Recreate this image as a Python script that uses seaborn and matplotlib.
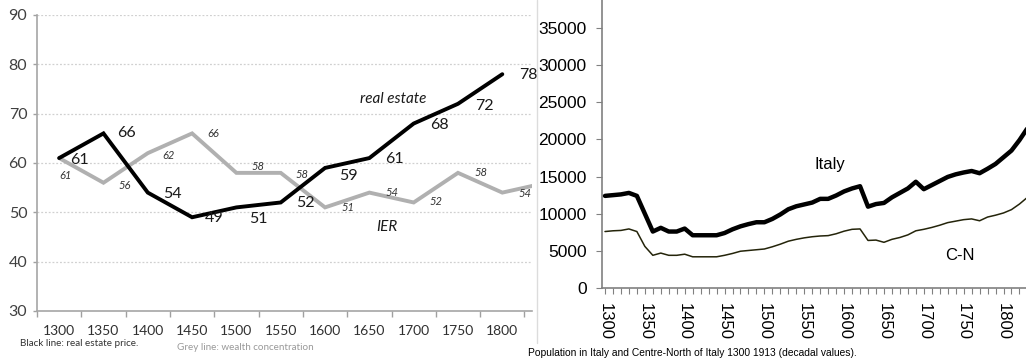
import matplotlib
matplotlib.use("Agg")
import matplotlib.pyplot as plt
import seaborn as sns
import numpy as np
import pandas as pd
from matplotlib.lines import Line2D
from matplotlib.ticker import MultipleLocator, FixedLocator

# ---------------- data ----------------
# Left panel: real estate price vs wealth concentration (IER)
periods = ["1300", "1350", "1400", "1450", "1500", "1550", "1600",
           "1650", "1700", "1750", "1800", "1850"]
real_estate = [61, 66, 54, 49, 51, 52, 59, 61, 68, 72, 78]
ier = [61, 56, 62, 66, 58, 58, 51, 54, 52, 58, 54, 56]
real_estate_labels = ["61", "66", "54", "49", "51", "52", "59", "61", "68", "72", "78"]
ier_labels = ["61", "56", "62", "66", "58", "58", "51", "54", "52", "58", "54"]
left_yticks = [30, 40, 50, 60, 70, 80, 90]

# Right panel: population (thousands), decadal values
years = list(range(1300, 1840, 10))
italy = [12400, 12500, 12600, 12800, 12400, 10000, 7600, 8100, 7600, 7600,
         8000, 7100, 7100, 7100, 7100, 7400, 7900, 8300, 8600, 8850,
         8850, 9300, 9900, 10600, 11000, 11250, 11500, 12000, 12000, 12450,
         13000, 13400, 13700, 10950, 11300, 11450, 12200, 12800, 13400, 14300,
         13300, 13850, 14400, 14950, 15300, 15550, 15750, 15450, 16050, 16700,
         17600, 18500, 19900, 21500]
centre_north = [7600, 7700, 7750, 7950, 7600, 5600, 4400, 4700, 4400, 4400,
                4550, 4200, 4200, 4200, 4200, 4400, 4650, 4950, 5050, 5150,
                5250, 5550, 5900, 6300, 6550, 6750, 6900, 7000, 7050, 7300,
                7650, 7900, 7950, 6400, 6450, 6150, 6550, 6800, 7150, 7700,
                7900, 8150, 8450, 8800, 9000, 9200, 9300, 9050, 9550, 9800,
                10100, 10550, 11300, 12200]
right_yticks = [0, 5000, 10000, 15000, 20000, 25000, 30000, 35000]
right_xticks = [1300, 1350, 1400, 1450, 1500, 1550, 1600, 1650, 1700, 1750, 1800]

# label placement (pixels relative to the point) - styling only
re_dx = [11, 14, 15, 13, 13, 15, 14, 16, 16, 17, 17]
re_dy = [-2, 0, -1, -1, -12, -1, -8, -1, -1, -2, -1]
ier_dx = [0, 15, 15, 15, 15, 15, 16, 16, 16, 17, 16]
ier_dy = [-17, -3, -2, 0, 6, -2, 0, 0, 1, 0, -1]

# ---------------- figure ----------------
sns.set_theme(style="white")
plt.rcParams["font.family"] = ["Lato", "DejaVu Sans"]

W, H = 1026, 363
fig = plt.figure(figsize=(W / 100, H / 100), dpi=100)
fig.patch.set_facecolor("white")

def px_rect(x0, y0, x1, y1):
    return [x0 / W, 1 - y1 / H, (x1 - x0) / W, (y1 - y0) / H]

# ---------- left panel ----------
axL = fig.add_axes(px_rect(37, 15, 532, 311))
axL.set_facecolor("white")
xpos = np.arange(len(periods))
dfL = pd.DataFrame({"x": xpos[:len(real_estate)], "y": real_estate})
dfI = pd.DataFrame({"x": xpos[:len(ier)], "y": ier})
sns.lineplot(data=dfI, x="x", y="y", ax=axL, color="#b0b0b0", linewidth=2.8,
             solid_joinstyle="miter", zorder=3)
sns.lineplot(data=dfL, x="x", y="y", ax=axL, color="#000000", linewidth=2.8,
             solid_joinstyle="miter", zorder=4)
axL.set_xlim(-0.5, 10.67)
axL.set_ylim(30, 90)
axL.set_xlabel("")
axL.set_ylabel("")
for v in left_yticks[1:]:
    axL.axhline(v, color="#d0d0d0", linewidth=0.9, linestyle=(0, (1.5, 1.5)), zorder=1)
axL.set_yticks(left_yticks)
axL.set_yticklabels([str(v) for v in left_yticks], fontsize=11.5, color="#404040")
axL.xaxis.set_major_locator(FixedLocator(np.arange(-0.5, 11, 1.0)))
axL.xaxis.set_major_formatter(plt.NullFormatter())
axL.xaxis.set_minor_locator(FixedLocator(np.arange(0, 11)))
axL.set_xticklabels(periods[:11], minor=True, fontsize=10, color="#303030")
axL.tick_params(axis="x", which="major", length=4, width=1, color="#a0a0a0", direction="out", bottom=True)
axL.tick_params(axis="x", which="minor", length=0, pad=10)
axL.tick_params(axis="y", which="major", length=3, width=1, color="#a0a0a0", direction="out", left=True, pad=4)
for s in ["top", "right"]:
    axL.spines[s].set_visible(False)
for s in ["left", "bottom"]:
    axL.spines[s].set_color("#a6a6a6")
    axL.spines[s].set_linewidth(1.2)

for i, lab in enumerate(real_estate_labels):
    axL.annotate(lab, (xpos[i], real_estate[i]), xytext=(re_dx[i], re_dy[i]),
                 textcoords="offset pixels", ha="left", va="center",
                 fontsize=11.5, color="#1a1a1a", zorder=6)
for i, lab in enumerate(ier_labels):
    axL.annotate(lab, (xpos[i], ier[i]), xytext=(ier_dx[i], ier_dy[i]),
                 textcoords="offset pixels", ha="left", va="center",
                 fontsize=8, style="italic", color="#333333", zorder=6)

axL.text(393 / W, 1 - 99 / H, "real estate", transform=fig.transFigure,
         ha="center", va="center", fontsize=11, style="italic", color="#1a1a1a")
axL.text(387 / W, 1 - 227 / H, "IER", transform=fig.transFigure,
         ha="center", va="center", fontsize=11, style="italic", color="#1a1a1a")
fig.text(20 / W, 1 - 343 / H, "Black line: real estate price.", ha="left", va="center",
         fontsize=7.1, color="#333333")
fig.text(177 / W, 1 - 347 / H, "Grey line: wealth concentration", ha="left", va="center",
         fontsize=7.1, color="#999999")

# separator line of the right picture
fig.add_artist(Line2D([537 / W, 537 / W], [1 - 343 / H, 1.0], transform=fig.transFigure,
                      color="#dcdcdc", linewidth=1))

# ---------- right panel ----------
axR = fig.add_axes(px_rect(602, 0, 1026, 288))
axR.set_facecolor("white")
x_left = 1300 - 3 / 0.797
x_right = x_left + 424 / 0.797
dfR = pd.DataFrame({"year": years, "Italy": italy, "C-N": centre_north})
sns.lineplot(data=dfR, x="year", y="Italy", ax=axR, color="#000000", linewidth=3.2, zorder=4)
sns.lineplot(data=dfR, x="year", y="C-N", ax=axR, color="#24240a", linewidth=1.1, zorder=3)
axR.set_xlim(x_left, x_right)
axR.set_ylim(0, 288 / 0.007429)
axR.set_xlabel("")
axR.set_ylabel("")
axR.set_yticks(right_yticks)
axR.set_yticklabels([str(v) for v in right_yticks], fontsize=12.5, color="#000000",
                    family=["Liberation Sans", "DejaVu Sans"])
axR.set_xticks(right_xticks)
axR.set_xticklabels([str(v) for v in right_xticks], fontsize=12, rotation=-90,
                    color="#000000", family=["Liberation Sans", "DejaVu Sans"])
axR.xaxis.set_minor_locator(MultipleLocator(10))
axR.tick_params(axis="x", which="both", length=4, width=0.8, color="#808080",
                direction="out", bottom=True, pad=7)
axR.tick_params(axis="y", which="major", length=4, width=0.8, color="#808080",
                direction="out", left=True, pad=7)
for s in ["top", "right"]:
    axR.spines[s].set_visible(False)
for s in ["left", "bottom"]:
    axR.spines[s].set_color("#808080")
    axR.spines[s].set_linewidth(1.2)

axR.text(830 / W, 1 - 164 / H, "Italy", transform=fig.transFigure, ha="center",
         va="center", fontsize=12, color="#000000", family=["Liberation Sans", "DejaVu Sans"])
axR.text(960 / W, 1 - 255 / H, "C-N", transform=fig.transFigure, ha="center",
         va="center", fontsize=12, color="#000000", family=["Liberation Sans", "DejaVu Sans"])
fig.text(692 / W, 1 - 353 / H,
         "Population in Italy and Centre-North of Italy 1300 1913 (decadal values).",
         ha="center", va="center", fontsize=7.4, color="#000000",
         family=["Liberation Sans", "DejaVu Sans"])

fig.savefig("out.png", dpi=100, facecolor="white")
